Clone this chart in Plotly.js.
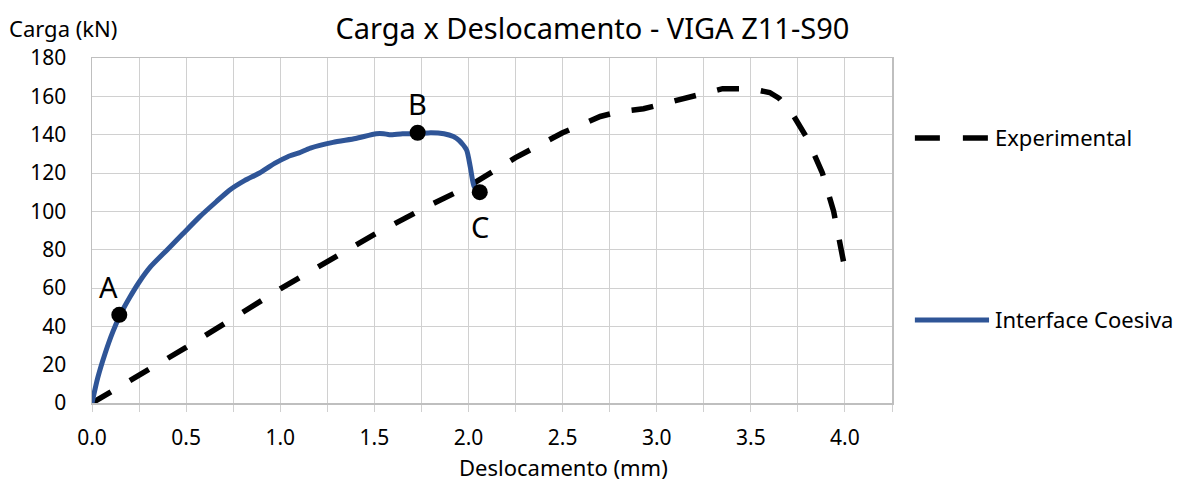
<!DOCTYPE html>
<html>
<head>
<meta charset="utf-8">
<script src="https://cdn.plot.ly/plotly-3.0.1.min.js"></script>
<style>html,body{margin:0;padding:0;background:#fff;}#chart{width:1179px;height:482px;}</style>
</head>
<body>
<div id="chart"></div>
<script>
// Experimental curve
const expX = [0, 0.5, 1.0, 1.5, 1.8, 2.0, 2.25, 2.5, 2.7, 2.8, 2.93, 3.05, 3.2, 3.35, 3.5, 3.6, 3.65, 3.72, 3.8, 3.88, 3.94, 3.98, 4.0];
const expY = [0, 29, 59.5, 88, 103.5, 113, 128, 141, 149.5, 152, 153.5, 156.5, 160, 164, 164, 162, 159, 151, 138, 120, 100, 82, 70];
// Interface Coesiva curve
const icX = [0, 0.03, 0.07, 0.11, 0.15, 0.2, 0.25, 0.31, 0.4, 0.48, 0.57, 0.66, 0.73, 0.81, 0.89, 0.97, 1.04, 1.1, 1.16, 1.28, 1.4, 1.51, 1.55, 1.58, 1.65, 1.73, 1.8, 1.87, 1.92, 1.95, 1.99, 2.01, 2.03, 2.06];
const icY = [0, 13, 26, 37, 46, 55, 63, 71, 80, 88, 97, 105, 111, 116, 120, 125, 128.5, 130.5, 133, 136, 138, 140.5, 140.5, 140, 140.5, 140.5, 141, 140.5, 139, 137, 132, 123, 113, 110];
// Highlighted points
const ptLabels = ['A', 'B', 'C'];
const ptX = [0.145, 1.73, 2.06];
const ptY = [46, 141, 110];
// Tick labels
const xTicks = [0, 0.5, 1.0, 1.5, 2.0, 2.5, 3.0, 3.5, 4.0];
const xTickText = ['0.0', '0.5', '1.0', '1.5', '2.0', '2.5', '3.0', '3.5', '4.0'];
const yTicks = [0, 20, 40, 60, 80, 100, 120, 140, 160, 180];

const FONT = 'Noto Sans, Open Sans, sans-serif';
const GRID = '#d0d0d0';
const BLUE = '#2f5597';

const traces = [
  {x: expX, y: expY, mode: 'lines', name: 'Experimental', showlegend: false,
   line: {color: '#000', width: 5.5, dash: '22px,22px'}},
  {x: icX, y: icY, mode: 'lines', name: 'Interface Coesiva', showlegend: false,
   line: {color: BLUE, width: 5, shape: 'spline', smoothing: 0.6}},
  {x: ptX, y: ptY, mode: 'markers', showlegend: false,
   marker: {color: '#000', size: 16}, cliponaxis: false}
];

const labelShift = [[-11, 28], [0, 29], [0, -34]];
const pointLabels = ptLabels.map((t, i) => ({
  text: t, x: ptX[i], y: ptY[i], xref: 'x', yref: 'y', showarrow: false,
  xanchor: 'center', yanchor: 'middle', xshift: labelShift[i][0], yshift: labelShift[i][1],
  font: {family: FONT, size: 29, color: '#000'}
}));

const layout = {
  width: 1179, height: 482,
  margin: {l: 92, r: 287, t: 58, b: 79},
  paper_bgcolor: '#fff', plot_bgcolor: '#fff',
  font: {family: FONT, size: 21, color: '#000'},
  title: {text: 'Carga x Deslocamento - VIGA Z11-S90', x: 0.5025, xanchor: 'center', y: 0.94, yanchor: 'middle',
          font: {family: FONT, size: 29, color: '#000'}},
  xaxis: {range: [0, 4.25], tickvals: xTicks, ticktext: xTickText,
          showgrid: true, gridcolor: GRID, gridwidth: 1,
          ticks: 'outside', ticklen: 7, tickcolor: GRID, tickwidth: 1,
          ticklabelstandoff: 8,
          minor: {dtick: 0.25, tick0: 0, showgrid: true, gridcolor: GRID, gridwidth: 1, ticks: 'outside', ticklen: 7, tickcolor: GRID},
          showline: true, linecolor: '#bfbfbf', linewidth: 1.5, mirror: true,
          zeroline: false, fixedrange: true,
          tickfont: {family: FONT, size: 21}},
  yaxis: {range: [0, 180], tickvals: yTicks,
          showgrid: true, gridcolor: GRID, gridwidth: 1,
          ticks: '', ticklabelstandoff: 20,
          showline: true, linecolor: '#bfbfbf', linewidth: 1.5, mirror: true,
          zeroline: false, fixedrange: true,
          tickfont: {family: FONT, size: 21}},
  shapes: [
    {type: 'line', xref: 'paper', yref: 'paper', x0: 1.0286, x1: 1.1213, y0: 0.768, y1: 0.768,
     line: {color: '#000', width: 5.5, dash: '25px,23px'}},
    {type: 'line', xref: 'paper', yref: 'paper', x0: 1.0286, x1: 1.1213, y0: 0.2405, y1: 0.2405,
     line: {color: BLUE, width: 5}}
  ],
  annotations: [
    {text: 'Experimental', xref: 'paper', yref: 'paper', x: 1.126, y: 0.77, xanchor: 'left', yanchor: 'middle',
     showarrow: false, font: {family: FONT, size: 22}},
    {text: 'Interface Coesiva', xref: 'paper', yref: 'paper', x: 1.126, y: 0.2425, xanchor: 'left', yanchor: 'middle',
     showarrow: false, font: {family: FONT, size: 22}},
    {text: 'Carga (kN)', xref: 'paper', yref: 'paper', x: -0.106, y: 1.087, xanchor: 'left', yanchor: 'middle',
     showarrow: false, font: {family: FONT, size: 22}},
    {text: 'Deslocamento (mm)', xref: 'paper', yref: 'paper', x: 0.589, y: -0.186, xanchor: 'center', yanchor: 'middle',
     showarrow: false, font: {family: FONT, size: 22}}
  ].concat(pointLabels)
};

Plotly.newPlot('chart', traces, layout, {displayModeBar: false, staticPlot: true});
</script>
</body>
</html>
